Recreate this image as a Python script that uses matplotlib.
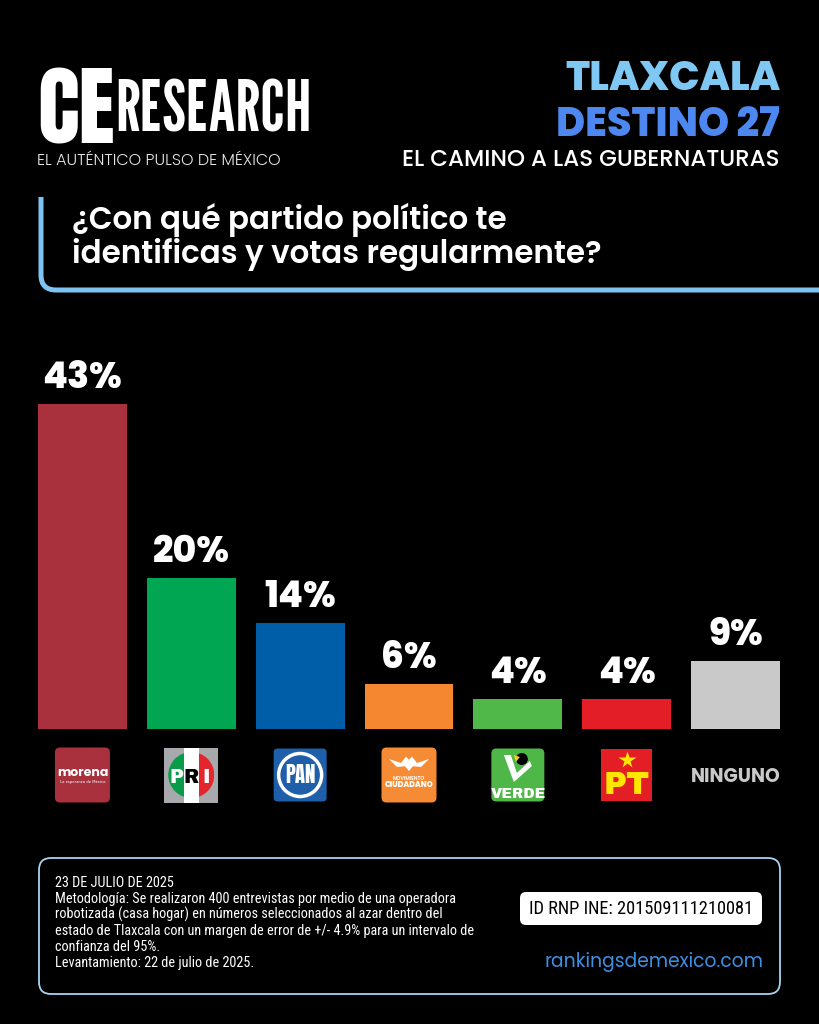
import matplotlib
matplotlib.use('Agg')
import matplotlib.pyplot as plt
from matplotlib.patches import FancyBboxPatch, Rectangle, Circle, Polygon, PathPatch
from matplotlib.path import Path

# ---------------- data ----------------
parties = ['morena', 'PRI', 'PAN', 'MC', 'VERDE', 'PT', 'NINGUNO']
values = [43, 20, 14, 6, 4, 4, 9]
value_labels = ['43%', '20%', '14%', '6%', '4%', '4%', '9%']
bar_colors = ['#A8313D', '#00A651', '#005DA8', '#F4872F', '#50B848', '#E31E27', '#C9C9C9']

brand_big = 'CE'
brand_small = 'RESEARCH'
tagline = 'EL AUTÉNTICO PULSO DE MÉXICO'
title_lines = ['TLAXCALA', 'DESTINO 27', 'EL CAMINO A LAS GUBERNATURAS']
question_lines = ['¿Con qué partido político te', 'identificas y votas regularmente?']
footer_lines = [
    '23 DE JULIO DE 2025',
    'Metodología: Se realizaron 400 entrevistas por medio de una operadora',
    'robotizada (casa hogar) en números seleccionados al azar dentro del',
    'estado de Tlaxcala con un margen de error de +/- 4.9% para un intervalo de',
    'confianza del 95%.',
    'Levantamiento: 22 de julio de 2025.',
]
id_text = 'ID RNP INE: 201509111210081'
website = 'rankingsdemexico.com'

# ---------------- figure ----------------
W, H = 819, 1024
BG = '#000000'
fig = plt.figure(figsize=(W / 100, H / 100), dpi=100, facecolor=BG)

deco = fig.add_axes([0, 0, 1, 1], zorder=0)
deco.set_xlim(0, W)
deco.set_ylim(H, 0)
deco.axis('off')
deco.set_facecolor(BG)

# bar axes
ax = fig.add_axes([38 / W, (H - 729) / H, 742 / W, 378 / H], zorder=2)
ax.patch.set_alpha(0)
ax.set_xlim(-0.4083, 6.4083)
ax.set_ylim(0, 50)
ax.axis('off')
x = list(range(len(values)))
ax.bar(x, values, width=0.8165, color=bar_colors, edgecolor='none')
for xi, v, lbl in zip(x, values, value_labels):
    ax.annotate(lbl, (xi, v), xytext=(0, 11.5), textcoords='offset points',
                ha='center', va='baseline', fontsize=26, family='Poppins',
                fontweight=800, color='white')

# ---------------- header ----------------
deco.text(37, 143, brand_big, family='Anton', fontsize=63, color='white',
          ha='left', va='baseline')
deco.text(115, 132, brand_small, family='League Gothic', fontsize=50, color='white',
          ha='left', va='baseline')
deco.text(37, 165, tagline, family='Poppins', fontweight=300, fontsize=11.5,
          color='#E6E6E6', ha='left', va='baseline')

deco.text(780, 90, title_lines[0], family='Poppins', fontweight=800, fontsize=29,
          color='#7FC8F4', ha='right', va='baseline')
deco.text(780, 136, title_lines[1], family='Poppins', fontweight=800, fontsize=28.5,
          color='#4C88EF', ha='right', va='baseline')
deco.text(780, 166, title_lines[2], family='Poppins', fontweight=500, fontsize=16.5,
          color='white', ha='right', va='baseline')

# question frame
frame = Path([(41, 197), (41, 275), (41, 290), (56, 290), (819, 290)],
             [Path.MOVETO, Path.LINETO, Path.CURVE3, Path.CURVE3, Path.LINETO])
deco.add_patch(PathPatch(frame, fc='none', ec='#7DC4F2', lw=3.6, capstyle='butt'))
deco.text(72, 229, question_lines[0], family='Poppins', fontweight=600, fontsize=22.3,
          color='white', ha='left', va='baseline')
deco.text(72, 263, question_lines[1], family='Poppins', fontweight=600, fontsize=22.3,
          color='white', ha='left', va='baseline')

# ---------------- party logos ----------------
centers = [ax.transData.transform((xi, 0))[0] for xi in x]
cy = 775
S = 55


def rbox(cx, color, r=5, size=S):
    deco.add_patch(FancyBboxPatch((cx - size / 2, cy - size / 2), size, size,
                                  boxstyle=f'round,pad=0,rounding_size={r}',
                                  fc=color, ec='none'))


for cx, party in zip(centers, parties):
    if party == 'morena':
        rbox(cx, '#A8313D')
        deco.text(cx, 776, 'morena', family='Poppins', fontweight=700, fontsize=9,
                  color='white', ha='center', va='baseline')
        deco.text(cx, 783, 'La esperanza de México', family='DejaVu Sans', fontsize=2.7,
                  color='white', ha='center', va='baseline')
    elif party == 'PRI':
        deco.add_patch(Rectangle((cx - 27, cy - 27.5), 54, 55, fc='#A7A9AC', ec='none'))
        circ = Circle((cx, cy), 23, transform=deco.transData)
        g = Rectangle((cx - 23, cy - 23), 16, 46, fc='#0A9B48', ec='none')
        r = Rectangle((cx + 7, cy - 23), 16, 46, fc='#E4262C', ec='none')
        for p in (g, r):
            deco.add_patch(p)
            p.set_clip_path(circ)
        deco.add_patch(Rectangle((cx - 7.5, cy - 27.5), 15, 55, fc='white', ec='none'))
        deco.text(cx - 15, cy + 8, 'P', family='Archivo Black', fontsize=14, color='white',
                  ha='center', va='baseline')
        deco.text(cx, cy + 8, 'R', family='Archivo Black', fontsize=14, color='black',
                  ha='center', va='baseline')
        deco.text(cx + 15, cy + 8, 'I', family='Archivo Black', fontsize=14, color='white',
                  ha='center', va='baseline')
    elif party == 'PAN':
        rbox(cx, '#1F5FA9', r=4, size=53)
        deco.add_patch(Circle((cx, cy), 21.5, fc='none', ec='white', lw=2.5))
        deco.text(cx, cy + 8, 'PAN', family='Anton', fontsize=15, color='white',
                  ha='center', va='baseline')
    elif party == 'MC':
        rbox(cx, '#F58B35')
        eagle = [(-20, -10), (-8, -5), (-3, -13), (0, -9), (3, -13), (8, -5), (20, -10),
                 (12, 0), (4, -1), (0, 5), (-4, -1), (-12, 0)]
        deco.add_patch(Polygon([(cx + a, cy - 8 + b * 0.8) for a, b in eagle], closed=True,
                               fc='white', ec='none'))
        deco.text(cx, cy + 5, 'MOVIMIENTO', family='Poppins', fontweight=600, fontsize=3.6,
                  color='white', ha='center', va='baseline')
        deco.text(cx, cy + 12, 'CIUDADANO', family='Poppins', fontweight=800, fontsize=5.6,
                  color='white', ha='center', va='baseline')
    elif party == 'VERDE':
        rbox(cx, '#4EB748', size=53)
        v = [(cx - 14, cy - 20), (cx - 7, cy - 20), (cx - 1, cy - 2), (cx + 12, cy - 14),
             (cx + 14, cy - 9), (cx - 4, cy + 7)]
        deco.add_patch(Polygon(v, closed=True, fc='white', ec='none'))
        deco.add_patch(Circle((cx + 4, cy - 16), 6, fc='black', ec='none'))
        deco.add_patch(Polygon([(cx - 4, cy - 20), (cx + 2, cy - 18), (cx - 2, cy - 13)],
                               closed=True, fc='#F7D117', ec='none'))
        deco.text(cx, cy + 23, 'VERDE', family='Archivo Black', fontsize=10.5,
                  color='white', ha='center', va='baseline')
    elif party == 'PT':
        deco.add_patch(Rectangle((cx - 26, cy - 26), 51, 52, fc='#E31E24', ec='none'))
        deco.plot([cx], [cy - 15], marker='*', markersize=13, color='#FFE600', mec='none')
        deco.text(cx, cy + 19, 'PT', family='Archivo Black', fontsize=23, color='#FFE600',
                  ha='center', va='baseline')
    else:
        deco.text(cx, cy + 6.5, 'NINGUNO', family='Poppins', fontweight=700, fontsize=13.5,
                  color='#C9C9C9', ha='center', va='baseline')

# ---------------- footer ----------------
deco.add_patch(FancyBboxPatch((39, 858), 741, 136, boxstyle='round,pad=0,rounding_size=12',
                              fc='none', ec='#A6D3F0', lw=1.3))
for k, line in enumerate(footer_lines):
    deco.text(55, 887 + 16 * k, line, family='Roboto Condensed', fontsize=10.3,
              color='white', ha='left', va='baseline')
deco.add_patch(FancyBboxPatch((520, 892), 242, 33, boxstyle='round,pad=0,rounding_size=6',
                              fc='white', ec='none'))
deco.text(641, 914, id_text, family='Roboto Condensed', fontsize=13.2, color='black',
          ha='center', va='baseline')
deco.text(653.5, 967, website, family='Poppins', fontsize=13.5, color='#3D8FE3',
          ha='center', va='baseline')

fig.savefig('out.png', dpi=100, facecolor=BG)
